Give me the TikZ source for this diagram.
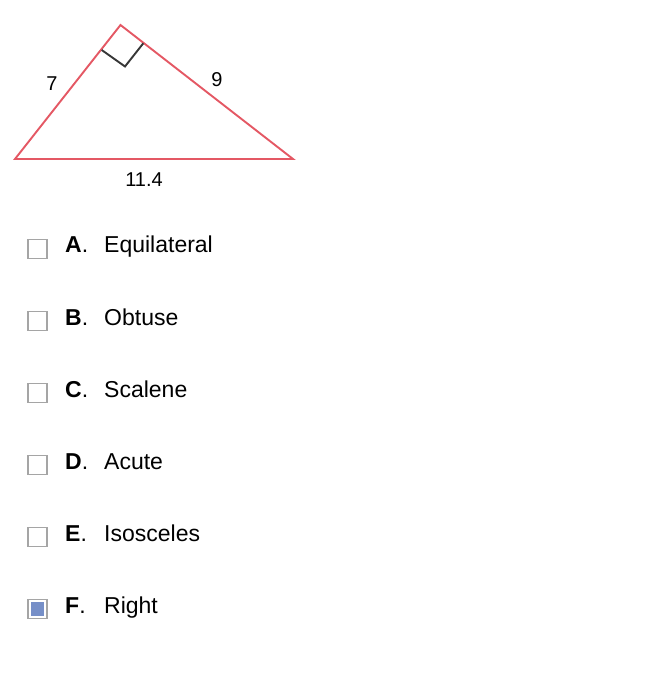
\documentclass[tikz,border=0pt]{standalone}
\usepackage{fontspec}
\setmainfont{Liberation Sans}
\definecolor{trired}{RGB}{228,88,100}
\definecolor{markgray}{RGB}{55,55,55}
\definecolor{boxgray}{RGB}{165,165,165}
\definecolor{tickblue}{RGB}{118,143,200}
\begin{document}
\begin{tikzpicture}
[x=1pt,y=-1pt,%
  side/.style={draw=trired,line width=1.9pt,line join=miter},%
  rtmark/.style={draw=markgray,line width=1.9pt},%
  len/.style={inner sep=0pt,font=\fontsize{20}{22}\selectfont},%
  cbox/.style={draw=boxgray,line width=1.3pt,fill=white,minimum width=19pt,minimum height=19pt,inner sep=0pt},%
  letter/.style={anchor=base west,inner sep=0pt,font=\fontsize{23}{26}\selectfont\bfseries},%
  answer/.style={anchor=base west,inner sep=0pt,font=\fontsize{23}{26}\selectfont}]
\useasboundingbox (0,0) rectangle (654,684);
% the triangle
\coordinate (L) at (15,159);
\coordinate (T) at (120.5,25);
\coordinate (R) at (293,159);
\draw[side] (L) -- (T) -- (R) -- cycle;
\coordinate (m1) at (101.7,50);
\coordinate (m2) at (125,66.5);
\coordinate (m3) at (143.3,43.3);
\draw[rtmark] (m1) -- (m2) -- (m3);
\node[len] (a) at (52,83.5) {7};
\node[len] (b) at (217,80) {9};
\node[len] (c) at (144,179.5) {11.4};
% the choices
\foreach \i/\l/\t in {0/A/Equilateral,1/B/Obtuse,2/C/Scalene,3/D/Acute,4/E/Isosceles,5/F/Right} {
  \node[cbox] (box\l) at (37.5,249+72*\i) {};
  \node[letter] (let\l) at (65,253+72*\i) {\l\textmd{.}};
  \node[answer] (ans\l) at (104,253+72*\i) {\t};
}
\fill[tickblue] ([shift={(3.5pt,3.5pt)}]boxF.south west) rectangle ([shift={(-3.5pt,-3.5pt)}]boxF.north east);
\end{tikzpicture}
\end{document}
